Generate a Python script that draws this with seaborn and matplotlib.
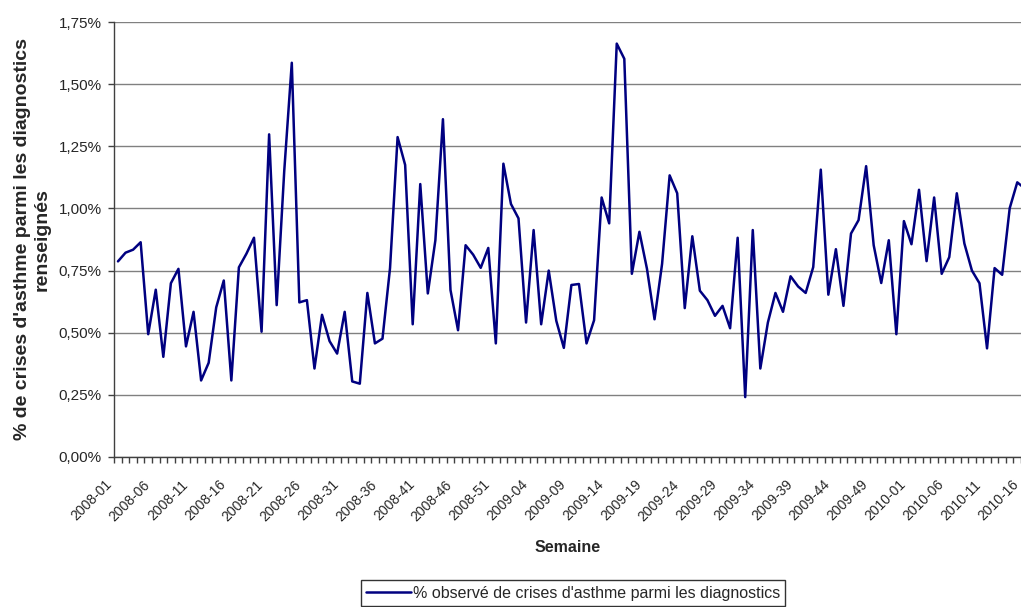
import numpy as np
import pandas as pd
import seaborn as sns
import matplotlib.pyplot as plt
import matplotlib.transforms as mtransforms
from matplotlib.ticker import FuncFormatter

# week labels (ISO weeks: 2008 has 52, 2009 has 53)
weeks = ([f"2008-{w:02d}" for w in range(1, 53)]
         + [f"2009-{w:02d}" for w in range(1, 54)]
         + [f"2010-{w:02d}" for w in range(1, 17)])

pct_2008 = [0.787, 0.822, 0.834, 0.864, 0.494, 0.673, 0.403, 0.699, 0.757, 0.445,
            0.584, 0.308, 0.379, 0.602, 0.710, 0.308, 0.763, 0.818, 0.882, 0.504,
            1.298, 0.611, 1.150, 1.586, 0.622, 0.631, 0.356, 0.572, 0.466, 0.416,
            0.584, 0.304, 0.295, 0.660, 0.457, 0.476, 0.760, 1.287, 1.175, 0.534,
            1.098, 0.658, 0.872, 1.359, 0.672, 0.510, 0.852, 0.814, 0.761, 0.841,
            0.457, 1.180]
pct_2009 = [1.018, 0.960, 0.541, 0.913, 0.534, 0.750, 0.548, 0.439, 0.692, 0.696,
            0.457, 0.550, 1.044, 0.940, 1.663, 1.602, 0.737, 0.906, 0.757, 0.554,
            0.777, 1.133, 1.061, 0.599, 0.888, 0.669, 0.631, 0.568, 0.608, 0.518,
            0.882, 0.241, 0.913, 0.356, 0.541, 0.660, 0.584, 0.727, 0.686, 0.660,
            0.764, 1.156, 0.653, 0.836, 0.608, 0.899, 0.953, 1.170, 0.852, 0.700,
            0.872, 0.494, 0.949]
pct_2010 = [0.856, 1.075, 0.788, 1.044, 0.737, 0.804, 1.061, 0.859, 0.750, 0.699,
            0.437, 0.760, 0.733, 1.001, 1.105, 1.080]

label = "% observé de crises d'asthme parmi les diagnostics"

df = pd.DataFrame({"semaine": weeks, "pct": pct_2008 + pct_2009 + pct_2010})
df["pos"] = np.arange(len(df))

sns.set_style("white")
plt.rcParams["font.family"] = ["Liberation Sans", "DejaVu Sans"]
plt.rcParams["font.size"] = 10

fig = plt.figure(figsize=(10.21, 6.07), dpi=100)
ax = fig.add_axes([114.2 / 1021, 150 / 607, 914.4 / 1021, 435 / 607])

sns.lineplot(data=df, x="pos", y="pct", color="#000080", linewidth=1.8,
             label=label, ax=ax, legend=False)

ax.set_ylim(0, 1.75)
ax.set_xlim(-0.5, len(df) - 0.5)
ax.set_yticks(np.arange(0, 1.76, 0.25))
ax.yaxis.set_major_formatter(FuncFormatter(lambda v, p: f"{v:.2f}%".replace(".", ",")))
ax.grid(axis="y", color="#808080", linewidth=1)
ax.set_axisbelow(True)

# tick marks between categories, labels every 5 weeks
ax.set_xticks(np.arange(-0.5, len(df), 1))
ax.set_xticklabels([])
ax.set_xticks(df["pos"][::5], df["semaine"][::5], minor=True)
ax.tick_params(axis="x", which="major", direction="out", length=4, width=1, color="#404040", bottom=True)
ax.tick_params(axis="x", which="minor", length=0, pad=4, labelsize=10)
ax.tick_params(axis="y", direction="out", length=4, width=1, color="#404040", left=True, pad=5,
               labelsize=11)
shift = mtransforms.ScaledTranslation(-13 / 100, -15 / 100, fig.dpi_scale_trans)
for t in ax.get_xticklabels(minor=True):
    t.set_rotation(45)
    t.set_ha("right")
    t.set_va("top")
    t.set_rotation_mode("anchor")
    t.set_transform(t.get_transform() + shift)

for s in ["top", "right"]:
    ax.spines[s].set_visible(False)
for s in ["left", "bottom"]:
    ax.spines[s].set_color("#404040")
    ax.spines[s].set_linewidth(1)

ax.set_xlabel("Semaine", fontweight="bold", fontsize=11.5)
ax.xaxis.set_label_coords(0.4954, -0.19)
ax.xaxis.label.set_va("top")
ax.set_ylabel("% de crises d'asthme parmi les diagnostics\nrenseignés", fontweight="bold",
              fontsize=14)
ax.yaxis.set_label_coords(-0.070, 0.5)

leg = fig.legend(loc="upper center", bbox_to_anchor=(573 / 1021, 1 - 580 / 607),
                 frameon=True, fancybox=False, edgecolor="black", handlelength=2.8,
                 handletextpad=0.1, borderpad=0.35, borderaxespad=0, fontsize=11.5)
leg.get_frame().set_linewidth(1)

fig.savefig("out.png", dpi=100)
